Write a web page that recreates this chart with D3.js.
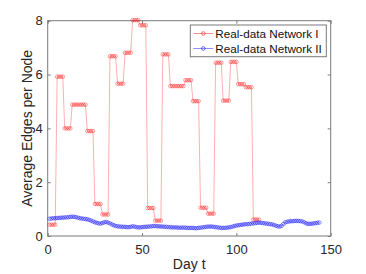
<!DOCTYPE html>
<html>
<head>
<meta charset="utf-8">
<script src="https://cdn.jsdelivr.net/npm/d3@7"></script>
<style>
    body { margin: 0; background: #fff; }
    svg { display: block; font-family: "Liberation Sans", Arial, sans-serif; }
    .tick text { fill: #262626; font-size: 13px; }
</style>
</head>
<body>
<svg id="chart" width="366" height="274"></svg>
<script>
// Average edges per node (day 1 .. 112)
const network1 = [
    0.42, 0.42, 0.42, 0.42,  5.92, 5.92, 5.92, 5.92,  4.00, 4.00, 4.00, 4.00,
    4.88, 4.88, 4.88, 4.88,  4.88, 4.88, 4.88, 4.88,  3.90, 3.90, 3.90, 3.90,
    1.19, 1.19, 1.19, 1.19,  0.80, 0.80, 0.80, 0.80,  6.68, 6.68, 6.68, 6.68,
    5.66, 5.66, 5.66, 5.66,  6.81, 6.81, 6.81, 6.81,  8.02, 8.02, 8.02, 8.02,
    7.83, 7.83, 7.83, 7.83,  1.04, 1.04, 1.04, 1.04,  0.57, 0.57, 0.57, 0.57,
    6.75, 6.75, 6.75, 6.75,  5.57, 5.57, 5.57, 5.57,  5.57, 5.57, 5.57, 5.57,
    5.79, 5.79, 5.79, 5.79,  5.01, 5.01, 5.01, 5.01,  1.05, 1.05, 1.05, 1.05,
    0.83, 0.83, 0.83, 0.83,  6.44, 6.44, 6.44, 6.44,  5.03, 5.03, 5.03, 5.03,
    6.47, 6.47, 6.47, 6.47,  5.64, 5.64, 5.64, 5.64,  5.53, 5.53, 5.53, 5.53,
    0.61, 0.61, 0.61, 0.61
];

// day 1 .. 144
const network2 = [
    0.64, 0.65, 0.66, 0.66, 0.67, 0.67, 0.68, 0.68, 0.69, 0.69,
    0.70, 0.71, 0.72, 0.71, 0.70, 0.68, 0.66, 0.65, 0.64, 0.63,
    0.62, 0.60, 0.57, 0.54, 0.51, 0.49, 0.47, 0.46, 0.48, 0.51,
    0.52, 0.50, 0.47, 0.43, 0.40, 0.37, 0.36, 0.35, 0.35, 0.34,
    0.34, 0.33, 0.33, 0.34, 0.36, 0.35, 0.33, 0.32, 0.32, 0.33,
    0.34, 0.34, 0.35, 0.35, 0.36, 0.37, 0.37, 0.36, 0.36, 0.35,
    0.35, 0.34, 0.34, 0.33, 0.33, 0.32, 0.32, 0.32, 0.31, 0.31,
    0.31, 0.31, 0.31, 0.30, 0.30, 0.30, 0.30, 0.29, 0.29, 0.30,
    0.31, 0.32, 0.33, 0.34, 0.35, 0.35, 0.35, 0.34, 0.33, 0.32,
    0.31, 0.30, 0.30, 0.30, 0.31, 0.32, 0.33, 0.35, 0.37, 0.39,
    0.40, 0.41, 0.42, 0.43, 0.44, 0.44, 0.45, 0.46, 0.47, 0.48,
    0.49, 0.50, 0.49, 0.48, 0.47, 0.46, 0.45, 0.44, 0.43, 0.41,
    0.38, 0.36, 0.35, 0.38, 0.45, 0.51, 0.53, 0.54, 0.55, 0.55,
    0.56, 0.56, 0.56, 0.55, 0.54, 0.51, 0.47, 0.45, 0.45, 0.46,
    0.47, 0.48, 0.49, 0.50
];

const xTicks = [0, 50, 100, 150];
const yTicks = [0, 2, 4, 6, 8];
const seriesNames = ["Real-data Network I", "Real-data Network II"];
const seriesColors = ["#ff0000", "#0000ff"];
const markerOpacity = [0.55, 0.65];

const svg = d3.select("#chart");
const plotLeft = 47.7, plotRight = 330.7, plotTop = 20.7, plotBottom = 236;

const x = d3.scaleLinear().domain([0, 150]).range([plotLeft, plotRight]);
const y = d3.scaleLinear().domain([0, 8]).range([plotBottom, plotTop]);

// axes, ticks pointing inward like matlab
const axisColor = "#262626";
const styleAxis = g => {
    g.select(".domain").remove();
    g.selectAll(".tick line").attr("stroke", axisColor).attr("stroke-width", 0.6);
};

svg.append("g")
    .attr("transform", `translate(0,${plotBottom})`)
    .call(d3.axisBottom(x).tickValues(xTicks).tickSize(-3).tickPadding(9))
    .call(styleAxis);
svg.append("g")
    .attr("transform", `translate(0,${plotTop})`)
    .call(d3.axisTop(x).tickValues(xTicks).tickSize(-3).tickFormat(""))
    .call(styleAxis);
svg.append("g")
    .attr("transform", `translate(${plotLeft},0)`)
    .call(d3.axisLeft(y).tickValues(yTicks).tickSize(-3).tickPadding(5))
    .call(styleAxis);
svg.append("g")
    .attr("transform", `translate(${plotRight},0)`)
    .call(d3.axisRight(y).tickValues(yTicks).tickSize(-3).tickFormat(""))
    .call(styleAxis);

svg.selectAll("g").attr("font-family", null).attr("font-size", null);

// box
svg.append("rect")
    .attr("x", plotLeft).attr("y", plotTop)
    .attr("width", plotRight - plotLeft).attr("height", plotBottom - plotTop)
    .attr("fill", "none")
    .attr("stroke", "#7a7a7a")
    .attr("stroke-width", 1);

// series
const line = d3.line().x((d, i) => x(i + 1)).y(d => y(d));

[network1, network2].forEach((values, k) => {
    const g = svg.append("g");
    g.append("path")
        .datum(values)
        .attr("d", line)
        .attr("fill", "none")
        .attr("stroke", seriesColors[k])
        .attr("stroke-opacity", 0.45)
        .attr("stroke-width", 0.7);
    g.selectAll("circle")
        .data(values)
        .enter()
        .append("circle")
            .attr("cx", (d, i) => x(i + 1))
            .attr("cy", d => y(d))
            .attr("r", 1.8)
            .attr("fill", "none")
            .attr("stroke", seriesColors[k])
            .attr("stroke-opacity", markerOpacity[k])
            .attr("stroke-width", 0.7);
});

// axis labels
svg.append("text")
    .attr("x", (plotLeft + plotRight) / 2)
    .attr("y", 269)
    .attr("text-anchor", "middle")
    .attr("font-size", "14px")
    .attr("fill", axisColor)
    .text("Day t");

svg.append("text")
    .attr("transform", `translate(32,${(plotTop + plotBottom) / 2}) rotate(-90)`)
    .attr("text-anchor", "middle")
    .attr("font-size", "14px")
    .attr("fill", axisColor)
    .text("Average Edges per Node");

// legend
const legend = svg.append("g").attr("transform", "translate(190.3,25)");
legend.append("rect")
    .attr("width", 136).attr("height", 31.7)
    .attr("fill", "#fff")
    .attr("stroke", "#7a7a7a")
    .attr("stroke-width", 1);

seriesNames.forEach((name, k) => {
    const row = legend.append("g").attr("transform", `translate(0,${8.5 + k * 15})`);
    row.append("line")
        .attr("x1", 3).attr("x2", 23)
        .attr("stroke", seriesColors[k])
        .attr("stroke-opacity", 0.55)
        .attr("stroke-width", 0.8);
    row.append("circle")
        .attr("cx", 13).attr("r", 1.8)
        .attr("fill", "none")
        .attr("stroke", seriesColors[k])
        .attr("stroke-opacity", 0.7)
        .attr("stroke-width", 0.8);
    row.append("text")
        .attr("x", 25)
        .attr("dy", "0.36em")
        .attr("font-size", "11.7px")
        .attr("fill", "#111")
        .text(name);
});
</script>
</body>
</html>
